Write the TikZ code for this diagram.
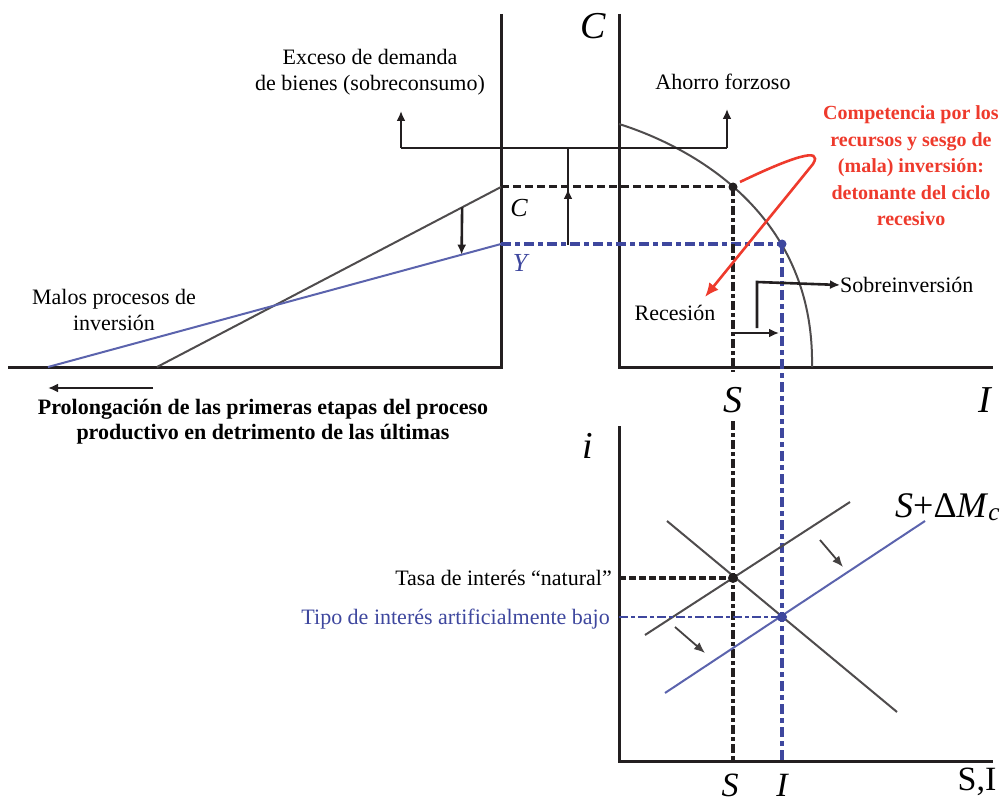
\documentclass[tikz,border=0pt]{standalone}
\usepackage{fontspec}
\setmainfont{Liberation Serif}
\usetikzlibrary{arrows.meta,positioning,calc}
\definecolor{Ink}{HTML}{231F20}
\definecolor{Navy}{HTML}{3E479E}
\definecolor{Alarm}{HTML}{EE3A2C}
\tikzset{
 axis/.style={draw=Ink,line width=3pt,line join=miter},
 arr/.style={-{Latex[length=10pt,width=9pt]},line width=2.6pt,draw=Ink},
 thinarr/.style={-{Latex[length=11pt,width=9pt]},line width=1.8pt,draw=Ink!85},
 sched/.style={line width=2pt,draw=Ink!80},
 bsched/.style={line width=2pt,draw=Navy!85},
 guide/.style={draw=Ink,line width=4pt,dash pattern=on 9pt off 3pt on 4pt off 3pt},
 bguide/.style={draw=Navy,line width=4pt,dash pattern=on 10pt off 4pt on 5pt off 4pt},
 hguide/.style={draw=Ink,line width=3pt,dash pattern=on 8pt off 4pt},
 lbl/.style={font=\fontsize{22}{26.5}\selectfont,align=center,inner sep=0pt},
 ax/.style={font=\fontsize{38}{40}\selectfont\itshape,inner sep=0pt,anchor=base},
 eqdot/.style={circle,fill=#1,inner sep=0pt,minimum size=10pt}
}
\begin{document}
\begin{tikzpicture}[x=1pt,y=-1pt]
\clip (0,0) rectangle (1002,805);
% three panels
\coordinate (o1) at (501,367);
\coordinate (o2) at (619,367);
\coordinate (o3) at (619,761);
\draw[axis] (501,14) -- (o1) -- (8,367);
\draw[axis] (619,14) -- (o2) -- (993,367);
\draw[axis] (619,426) -- (o3) -- (993,761);
\node[ax] (capC) at (593,39) {C};
\node[ax] (capS) at (733,412) {S};
\node[ax] (capI) at (985,412) {I};
\node[ax] (capi) at (588,458) {i};
\node[ax,font=\fontsize{34}{36}\selectfont\itshape] (botS) at (730,796) {S};
\node[ax,font=\fontsize{34}{36}\selectfont\itshape] (botI) at (782,796) {I};
\node[ax,font=\fontsize{34}{36}\selectfont] (botSI) at (977,790) {S,I};

% left panel: production structure
\coordinate (c0) at (157,367); \coordinate (c1) at (501,187);
\coordinate (y0) at (48,367);  \coordinate (y1) at (501,244);
\draw[sched] (c0) -- (c1);
\draw[bsched] (y0) -- (y1);
\draw[arr] ($(c0)!0.887!(c1)$) -- ($(y0)!0.913!(y1)$);
\node[ax,font=\fontsize{26}{28}\selectfont\itshape] (labC) at (519,217) {C};
\node[ax,font=\fontsize{26}{28}\selectfont\itshape,text=Navy] (labY) at (520,272) {Y};
\node[lbl] (malos) at (114,310) {Malos procesos de\\inversión};
\node[lbl,font=\fontsize{22}{25}\selectfont\bfseries] (prolong) at (263,422) {Prolongación de las primeras etapas del proceso\\productivo en detrimento de las últimas};
\draw[arr,line width=2pt] (153,388) -- (48,388);

% frontier
\coordinate (ppf0) at (619,124); \coordinate (ppf1) at (812,367);
\coordinate (E1) at (733,187); \coordinate (E2) at (782,244);
\draw[sched] (ppf0) .. controls (670,140) and (815,200) .. (ppf1);
\draw[hguide] (c1) -- (E1);
\draw[bguide] (y1) -- (E2);
\draw[guide] (E1) -- (733,372);
\draw[guide] (733,421) -- (733,761);
\draw[bguide] (E2) -- (782,761);
\node[eqdot=Ink,minimum size=9pt] (d1) at (E1) {};
\node[eqdot=Navy,minimum size=9pt] (d2) at (E2) {};

% brackets
\coordinate (brL) at (401,148); \coordinate (brR) at (727,148);
\node[lbl] (exceso) at (370,72) {Exceso de demanda\\de bienes (sobreconsumo)};
\node[lbl] (ahorro) at (723,82) {Ahorro forzoso};
\draw[line width=2.6pt,draw=Ink] (brL) -- (brR);
\draw[arr] (brL) -- ++(0,-37);
\draw[arr] (brR) -- ++(0,-39);
\draw[arr] (568,245) -- (568,189);
\draw[line width=2.6pt,draw=Ink] (568,192) -- (568,148);

% recession side
\node[lbl,anchor=west] (sobre) at (840,285) {Sobreinversión};
\node[lbl] (recesion) at (675,313) {Recesión};
\draw[arr] (757,328) -- (757,282) -- (sobre.west);
\draw[arr] (733,333) -- (779,333);
\node[lbl,font=\fontsize{20}{26.5}\selectfont\bfseries,text=Alarm] (compet) at (911,166) {Competencia por los\\recursos y sesgo de\\(mala) inversión:\\detonante del ciclo\\recesivo};
\draw[Alarm,line width=2.6pt,-{Latex[length=14pt,width=12pt]}] (740,182) .. controls (790,158) and (824,146) .. (813,164) -- (705,297);

% loanable funds
\coordinate (s0) at (645,635); \coordinate (s1) at (850,502);
\coordinate (i0) at (667,521); \coordinate (i1) at (897,712);
\coordinate (m0) at (665,693); \coordinate (m1) at (925,521);
\coordinate (E3) at (733,578); \coordinate (E4) at (782,617);
\draw[sched] (s0) -- (s1);
\draw[sched] (i0) -- (i1);
\draw[bsched] (m0) -- (m1);
\draw[hguide,line width=4pt,dash pattern=on 7pt off 3pt] (o3 |- E3) -- (E3);
\draw[draw=Navy,line width=2.2pt,dash pattern=on 9pt off 3pt on 4pt off 3pt] (o3 |- E4) -- (E4);
\node[eqdot=Ink] (d3) at (E3) {};
\node[eqdot=Navy] (d4) at (E4) {};
\node[lbl,anchor=east] (natural) at (612,578) {Tasa de interés “natural”};
\node[lbl,anchor=east,text=Navy] (bajo) at (610,619) {Tipo de interés artificialmente bajo};
\node[ax,anchor=base west,font=\fontsize{36}{38}\selectfont] (smc) at (895,517) {\textit{S}+Δ\textit{M}\textsubscript{\textit{c}}};
\draw[thinarr] (820,540) -- (843,567);
\draw[thinarr] (675,627) -- (705,653);
\end{tikzpicture}
\end{document}
